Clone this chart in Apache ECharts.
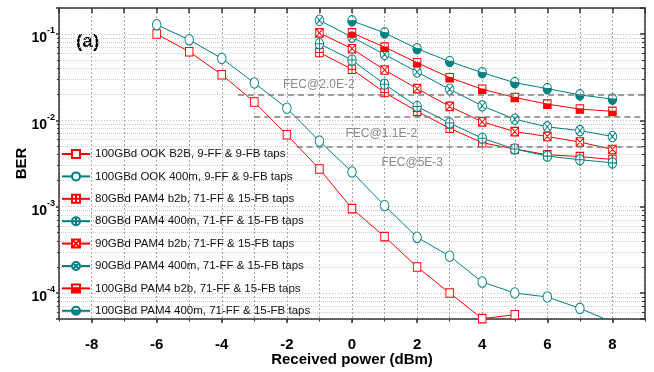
<!DOCTYPE html>
<html><head><meta charset="utf-8">
<script src="https://cdn.jsdelivr.net/npm/echarts@6/dist/echarts.min.js"></script>
<style>html,body{margin:0;padding:0;background:#fff}#c{width:654px;height:372px}</style>
</head><body><div id="c"></div>
<script>
// ---- data ----
const powerOOK = [-6,-5,-4,-3,-2,-1,0,1,2,3,4,5,6,7,8];
const berOOKB2B = [0.100,0.0624,0.0338,0.0163,0.0068,0.00273,9.5e-4,4.5e-4,2.0e-4,1.0e-4,5.05e-5,5.6e-5];
const berOOK400 = [0.128,0.0857,0.0521,0.0271,0.0138,0.00575,0.00252,1.03e-3,4.42e-4,2.67e-4,1.34e-4,1.0e-4,9.0e-5,6.64e-5,4.6e-5];
const powerPAM4 = [-1,0,1,2,3,4,5,6,7,8];
const ber80B2B = [0.061,0.039,0.021,0.0127,0.0081,0.0055,0.00465,0.0040,0.0038,0.00352];
const ber80400 = [0.077,0.0499,0.0262,0.01445,0.0093,0.0062,0.00465,0.00385,0.0035,0.00322];
const ber90B2B = [0.103,0.0675,0.0383,0.0233,0.0145,0.0096,0.0074,0.0065,0.0056,0.0046];
const ber90400 = [0.144,0.092,0.058,0.0363,0.0229,0.0147,0.0103,0.0084,0.0076,0.0065];
const power100 = [0,1,2,3,4,5,6,7,8];
const ber100B2B = [0.103,0.0705,0.0465,0.0312,0.0229,0.0184,0.0154,0.0135,0.0127];
const ber100400 = [0.142,0.103,0.0675,0.048,0.0356,0.0273,0.0233,0.0197,0.0176];
const seriesNames = [
  '100GBd OOK B2B, 9-FF & 9-FB taps',
  '100GBd OOK 400m, 9-FF & 9-FB taps',
  '80GBd PAM4 b2b, 71-FF & 15-FB taps',
  '80GBd PAM4 400m, 71-FF & 15-FB taps',
  '90GBd PAM4 b2b, 71-FF & 15-FB taps',
  '90GBd PAM4 400m, 71-FF & 15-FB taps',
  '100GBd PAM4 b2b, 71-FF & 15-FB taps',
  '100GBd PAM4 400m, 71-FF & 15-FB taps'
];
const xTickLabels = [-8,-6,-4,-2,0,2,4,6,8];
const fecLevels = [2.0e-2, 1.1e-2, 5e-3];
const fecStarts = [-3.5, -3.0, -1.7];
const fecLabels = ['FEC@2.0E-2','FEC@1.1E-2','FEC@5E-3'];
const fecLabelX = [-1.02, 0.9, 1.85];
const fecLabelY = [0.0262, 0.00693, 0.00323];

// ---- styling ----
const RED = '#ff0000', TEAL = '#008080';
const FONT = 'Liberation Sans';
const SQ = 'M0 0H10V10H0Z';
const CI = 'M5 0C7.761 0 10 2.239 10 5C10 7.761 7.761 10 5 10C2.239 10 0 7.761 0 5C0 2.239 2.239 0 5 0Z';
const CI_TOP_HOLE = 'M0 5L10 5C10 2.239 7.761 0 5 0C2.239 0 0 2.239 0 5Z';
const SYM = {
  sq: 'path://' + SQ,
  ci: 'path://' + CI,
  sqPlus: 'path://' + SQ + 'M5 0V10M0 5H10',
  ciPlus: 'path://' + CI + 'M5 0V10M0 5H10',
  sqX: 'path://' + SQ + 'M0 0L10 10M10 0L0 10',
  ciX: 'path://' + CI + 'M1.46 1.46L8.54 8.54M8.54 1.46L1.46 8.54',
  sqHalf: 'path://' + SQ + 'M0 0V5H10V0Z',
  ciHalf: 'path://' + CI + CI_TOP_HOLE
};
const SQSIZE = [7.5, 8.5], CISIZE = [8.5, 10.5];

function mk(i, xs, ys, color, sym, size, filled) {
  return {
    name: seriesNames[i], type: 'line',
    data: ys.map((v, k) => [xs[k], v]),
    symbol: SYM[sym], symbolSize: size, showAllSymbol: true,
    lineStyle: { color: color, width: 1 },
    itemStyle: { color: filled ? color : '#ffffff', borderColor: color, borderWidth: 1 },
    emphasis: { disabled: true },
    clip: true, z: 3
  };
}

const series = [
  mk(0, powerOOK, berOOKB2B, RED, 'sq', SQSIZE, false),
  mk(1, powerOOK, berOOK400, TEAL, 'ci', CISIZE, false),
  mk(2, powerPAM4, ber80B2B, RED, 'sqPlus', SQSIZE, false),
  mk(3, powerPAM4, ber80400, TEAL, 'ciPlus', CISIZE, false),
  mk(4, powerPAM4, ber90B2B, RED, 'sqX', SQSIZE, false),
  mk(5, powerPAM4, ber90400, TEAL, 'ciX', CISIZE, false),
  mk(6, power100, ber100B2B, RED, 'sqHalf', SQSIZE, true),
  mk(7, power100, ber100400, TEAL, 'ciHalf', CISIZE, true)
];
// FEC thresholds (annotation)
series.push({
  type: 'line', data: [], silent: true, z: 2,
  markLine: {
    silent: true, symbol: 'none', animation: false,
    lineStyle: { color: '#7f7f7f', type: [6, 4], width: 1.5 },
    label: { show: false },
    data: fecLevels.map((v, i) => [{ coord: [fecStarts[i], v] }, { coord: [9, v] }])
  },
  markPoint: {
    silent: true, symbol: 'circle', symbolSize: 0, animation: false,
    label: { show: true, position: 'inside', formatter: '{b}', color: '#8a8a8a', fontSize: 12, fontFamily: FONT },
    data: fecLabels.map((t, i) => ({ name: t, coord: [fecLabelX[i], fecLabelY[i]] }))
  }
});

const vGrid = { show: true, lineStyle: { color: '#a8a8a8', type: [2, 2], width: 1 } };
const hGrid = { show: true, lineStyle: { color: '#bdbdbd', type: [1, 2], width: 1 } };

const option = {
  animation: false,
  backgroundColor: '#fff',
  grid: { left: 59, right: 9, top: 8, bottom: 51, containLabel: false },
  graphic: [{ type: 'text', left: 76, top: 32, style: { text: '(a)', font: 'bold 19px "Liberation Sans"', fill: '#000' } }],
  legend: {
    orient: 'vertical', left: 61, top: 147, padding: 0,
    itemWidth: 28, itemHeight: 10, itemGap: 8.4,
    data: seriesNames,
    textStyle: { fontSize: 11.5, lineHeight: 14, fontFamily: FONT, color: '#111' },
    selectedMode: false
  },
  xAxis: [
    {
      type: 'value', position: 'bottom', min: -9, max: 9, interval: 1,
      name: 'Received power (dBm)', nameLocation: 'middle', nameGap: 33, nameMoveOverlap: false,
      nameTextStyle: { fontSize: 15, fontWeight: 'bold', fontFamily: FONT, color: '#000' },
      axisLine: { show: true, onZero: false, lineStyle: { color: '#333', width: 1.5 } },
      axisTick: { show: true, inside: false, length: 4, customValues: xTickLabels, lineStyle: { color: '#333', width: 1.5 } },
      axisLabel: { show: true, margin: 18, customValues: xTickLabels, fontSize: 15, fontWeight: 'bold', fontFamily: FONT, color: '#000' },
      splitLine: { show: false }
    },
    {
      type: 'value', position: 'top', min: -9, max: 9, interval: 1,
      axisLine: { show: true, onZero: false, lineStyle: { color: '#333', width: 1.5 } },
      axisTick: { show: true, inside: true, length: 5, lineStyle: { color: '#333', width: 1.5 } },
      axisLabel: { show: false },
      splitLine: vGrid
    },
    {
      type: 'value', position: 'bottom', offset: 0, min: -9, max: 9, interval: 1,
      axisLine: { show: false, onZero: false },
      axisTick: { show: true, inside: false, length: 2.5, lineStyle: { color: '#333', width: 1 } },
      axisLabel: { show: false },
      splitLine: { show: false }
    }
  ],
  yAxis: [
    {
      type: 'log', logBase: 10, position: 'left', min: 5e-5, max: 0.2,
      name: 'BER', nameLocation: 'middle', nameGap: 30, nameMoveOverlap: false,
      nameTextStyle: { fontSize: 15, fontWeight: 'bold', fontFamily: FONT, color: '#000' },
      axisLine: { show: true, onZero: false, lineStyle: { color: '#333', width: 1.5 } },
      axisTick: { show: true, inside: false, length: 3, lineStyle: { color: '#333', width: 1.5 } },
      minorTick: { show: true, splitNumber: 9, length: 2, lineStyle: { color: '#333', width: 1 } },
      minorSplitLine: { show: true, lineStyle: { color: '#d0d0d0', type: [1, 1], width: 1 } },
      splitLine: hGrid,
      axisLabel: {
        show: true, margin: 4, showMinLabel: false, showMaxLabel: false, padding: [9, 0, 0, 0],
        formatter: function (v) {
          const e = Math.log10(v);
          if (Math.abs(e - Math.round(e)) > 1e-6) return '';
          return '{b|10}{s|' + Math.round(e) + '}';
        },
        rich: {
          b: { fontSize: 14, fontWeight: 'bold', fontFamily: FONT, color: '#000', lineHeight: 24 },
          s: { fontSize: 9, fontWeight: 'bold', fontFamily: FONT, color: '#000', lineHeight: 10, verticalAlign: 'top' }
        }
      }
    },
    {
      type: 'log', logBase: 10, position: 'right', min: 5e-5, max: 0.2,
      axisLine: { show: true, onZero: false, lineStyle: { color: '#333', width: 1.5 } },
      axisTick: { show: true, inside: true, length: 5, lineStyle: { color: '#333', width: 1.5 } },
      minorTick: { show: true, splitNumber: 9, length: 3, lineStyle: { color: '#333', width: 1 } },
      axisLabel: { show: false },
      splitLine: { show: false }
    }
  ],
  series: series
};

const chart = echarts.init(document.getElementById('c'), null, { renderer: 'canvas' });
chart.setOption(option);
</script>
</body></html>
